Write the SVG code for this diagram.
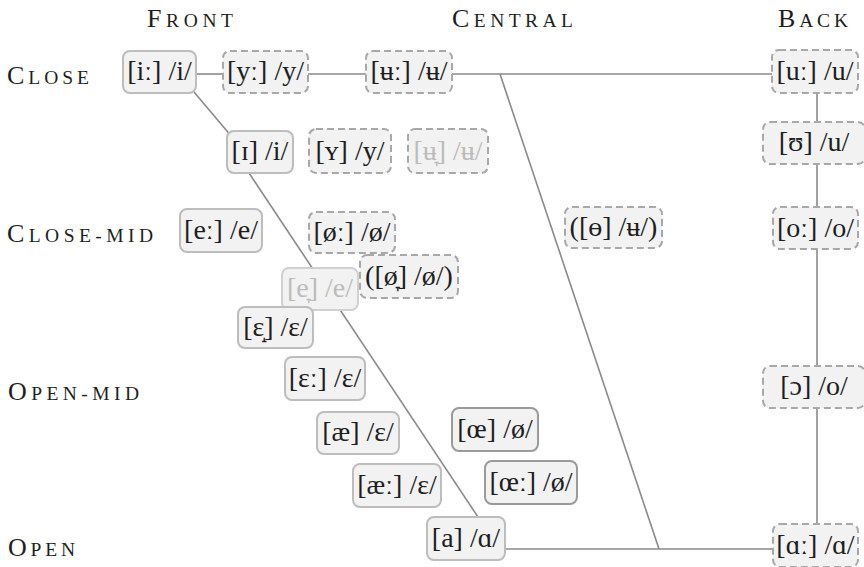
<svg xmlns="http://www.w3.org/2000/svg" width="864" height="567" viewBox="0 0 864 567">
  <style>
    .hd { font-family: "Liberation Serif", "DejaVu Serif", serif; fill: #1e1e1e; }
    .big { font-size: 26px; }
    .sm { font-size: 19.5px; }
    .box { fill: #f2f2f2; stroke: #bdbdbd; stroke-width: 2; }
    .box.dark { stroke: #9a9a9a; }
    .box.dash { stroke: #a8a8a8; stroke-dasharray: 7 4; }
    .lbl { font-family: "Liberation Serif", "DejaVu Serif", serif; font-size: 28px; fill: #1e1e1e; text-anchor: middle; }
    .faded .lbl { fill: #bcbcbc; }
    .faded .box.solid { stroke: #d0d0d0; }
    .edge { stroke: #8a8a8a; stroke-width: 1.6; fill: none; }
  </style>

  <rect width="864" height="567" fill="#ffffff"/>

  <!-- axis headings (small caps) -->
  <g id="headings">
    <text class="hd" x="147" y="27" textLength="86" lengthAdjust="spacing"><tspan class="big">F</tspan><tspan class="sm">RONT</tspan></text>
    <text class="hd" x="452" y="27" textLength="121" lengthAdjust="spacing"><tspan class="big">C</tspan><tspan class="sm">ENTRAL</tspan></text>
    <text class="hd" x="778" y="27" textLength="70" lengthAdjust="spacing"><tspan class="big">B</tspan><tspan class="sm">ACK</tspan></text>
    <text class="hd" x="7" y="84" textLength="82" lengthAdjust="spacing"><tspan class="big">C</tspan><tspan class="sm">LOSE</tspan></text>
    <text class="hd" x="7" y="242" textLength="146" lengthAdjust="spacing"><tspan class="big">C</tspan><tspan class="sm">LOSE-MID</tspan></text>
    <text class="hd" x="8" y="400" textLength="131" lengthAdjust="spacing"><tspan class="big">O</tspan><tspan class="sm">PEN-MID</tspan></text>
    <text class="hd" x="8" y="556" textLength="67" lengthAdjust="spacing"><tspan class="big">O</tspan><tspan class="sm">PEN</tspan></text>
  </g>

  <!-- connectors -->
  <g id="connectors">
    <line class="edge" x1="196" y1="74" x2="223" y2="74"/>
    <line class="edge" x1="308" y1="74" x2="366" y2="74"/>
    <line class="edge" x1="452" y1="74" x2="772" y2="74"/>
    <line class="edge" x1="500" y1="74" x2="659" y2="549"/>
    <line class="edge" x1="194" y1="92" x2="232" y2="137"/>
    <line class="edge" x1="249" y1="173" x2="478" y2="517"/>
    <line class="edge" x1="505" y1="549" x2="773" y2="549"/>
    <line class="edge" x1="817" y1="93" x2="817" y2="122"/>
    <line class="edge" x1="817" y1="164" x2="817" y2="207"/>
    <line class="edge" x1="817" y1="249" x2="817" y2="366"/>
    <line class="edge" x1="817" y1="408" x2="817" y2="524"/>
  </g>

  <!-- vowel nodes -->
  <g id="n-i-long"><rect class="box" x="123" y="51" width="73" height="42" rx="7"/><text class="lbl" x="159.5" y="80">[iː] /i/</text></g>
  <g id="n-y-long"><rect class="box dash" x="223" y="51" width="85" height="42" rx="7"/><text class="lbl" x="265.5" y="80">[yː] /y/</text></g>
  <g id="n-u-bar-long"><rect class="box dash" x="366" y="51" width="86" height="42" rx="7"/><text class="lbl" x="409" y="80">[ʉː] /ʉ/</text></g>
  <g id="n-u-long"><rect class="box dash" x="772" y="50" width="86" height="43" rx="7"/><text class="lbl" x="815" y="80">[uː] /u/</text></g>

  <g id="n-small-i"><rect class="box" x="227" y="131" width="66" height="42" rx="7"/><text class="lbl" x="260" y="160">[ɪ] /i/</text></g>
  <g id="n-small-y"><rect class="box dash" x="309" y="129" width="82" height="44" rx="7"/><text class="lbl" x="350" y="160">[ʏ] /y/</text></g>
  <g id="n-u-bar-low" class="faded"><rect class="box dash" x="408" y="129" width="80" height="44" rx="7"/><text class="lbl" x="448" y="160">[ʉ̞] /ʉ/</text></g>
  <g id="n-upsilon"><rect class="box dash" x="763" y="122" width="102" height="42" rx="7"/><text class="lbl" x="814" y="151">[ʊ] /u/</text></g>

  <g id="n-e-long"><rect class="box" x="180" y="209" width="82" height="43" rx="7"/><text class="lbl" x="221" y="239">[eː] /e/</text></g>
  <g id="n-o-slash-long"><rect class="box dash" x="309" y="212" width="86" height="41" rx="7"/><text class="lbl" x="352" y="241">[øː] /ø/</text></g>
  <g id="n-barred-o"><rect class="box dash" x="565" y="207" width="97" height="41" rx="7"/><text class="lbl" x="613.5" y="236">([ɵ] /ʉ/)</text></g>
  <g id="n-o-long"><rect class="box dash" x="773" y="207" width="85" height="42" rx="7"/><text class="lbl" x="815.5" y="237">[oː] /o/</text></g>

  <g id="n-e-low" class="faded"><rect class="box solid" x="282" y="268" width="76" height="42" rx="7"/><text class="lbl" x="320" y="297">[e̞] /e/</text></g>
  <g id="n-o-slash-low"><rect class="box dash" x="360" y="255" width="98" height="43" rx="7"/><text class="lbl" x="409" y="285">([ø̞] /ø/)</text></g>
  <g id="n-epsilon-raised"><rect class="box" x="238" y="307" width="75" height="41" rx="7"/><text class="lbl" x="275.5" y="336">[ɛ̝] /ɛ/</text></g>

  <g id="n-epsilon-long"><rect class="box" x="285" y="357" width="80" height="43" rx="7"/><text class="lbl" x="325" y="387">[ɛː] /ɛ/</text></g>
  <g id="n-open-o"><rect class="box dash" x="763" y="366" width="102" height="42" rx="7"/><text class="lbl" x="814" y="395">[ɔ] /o/</text></g>

  <g id="n-ash"><rect class="box" x="317" y="412" width="82" height="42" rx="7"/><text class="lbl" x="358" y="441">[æ] /ɛ/</text></g>
  <g id="n-oe"><rect class="box dark" x="452" y="408" width="86" height="43" rx="7"/><text class="lbl" x="495" y="438">[œ] /ø/</text></g>
  <g id="n-ash-long"><rect class="box" x="353" y="464" width="88" height="43" rx="7"/><text class="lbl" x="397" y="494">[æː] /ɛ/</text></g>
  <g id="n-oe-long"><rect class="box dark" x="485" y="461" width="92" height="43" rx="7"/><text class="lbl" x="531" y="491">[œː] /ø/</text></g>

  <g id="n-a"><rect class="box" x="427" y="517" width="78" height="43" rx="7"/><text class="lbl" x="466" y="547">[a] /ɑ/</text></g>
  <g id="n-alpha-long"><rect class="box dash" x="773" y="524" width="85" height="43" rx="7"/><text class="lbl" x="815.5" y="554">[ɑː] /ɑ/</text></g>
</svg>
